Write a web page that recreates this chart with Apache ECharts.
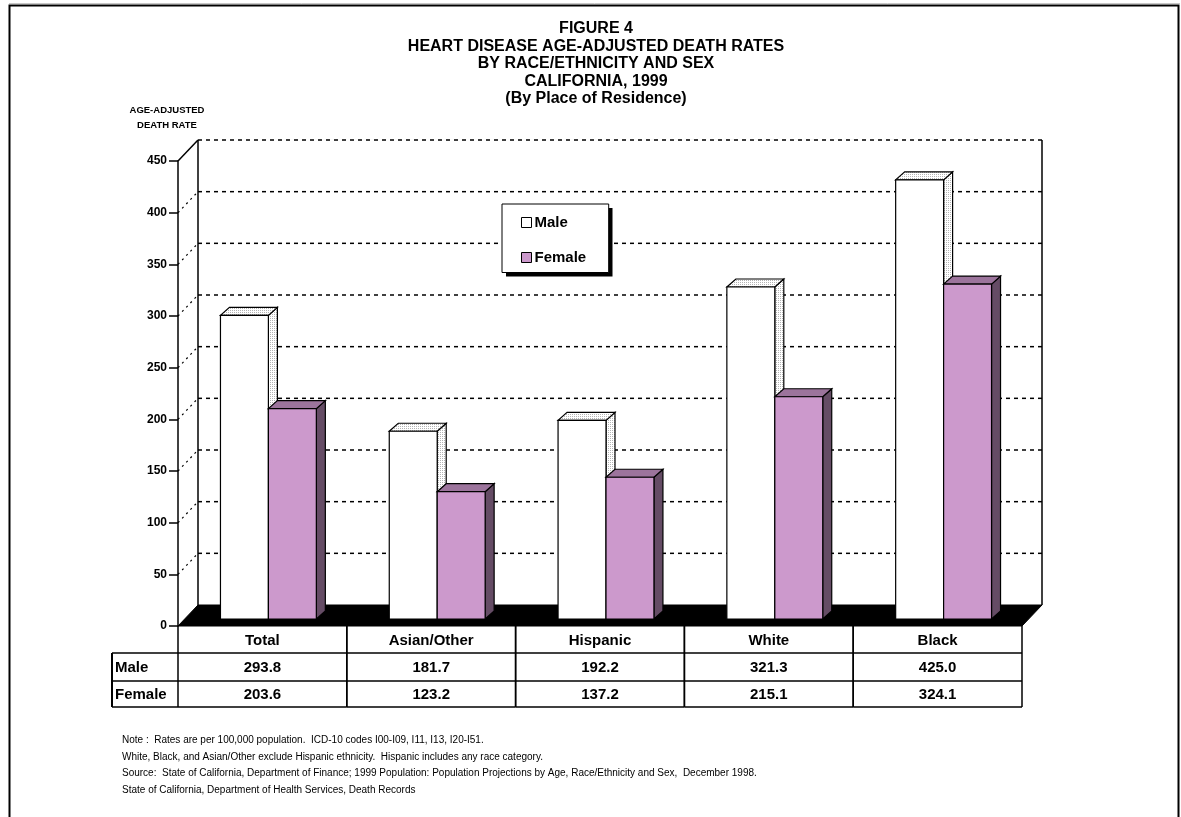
<!DOCTYPE html>
<html>
<head>
<meta charset="utf-8">
<script src="https://cdn.jsdelivr.net/npm/echarts@6/dist/echarts.min.js"></script>
<style>
  html, body { margin: 0; padding: 0; background: #fff; }
  #chart { width: 1181px; height: 817px; }
</style>
</head>
<body>
<div id="chart"></div>
<script>
// ---- data ----
const categories = ['Total', 'Asian/Other', 'Hispanic', 'White', 'Black'];
const maleRates = [293.8, 181.7, 192.2, 321.3, 425.0];
const femaleRates = [203.6, 123.2, 137.2, 215.1, 324.1];
const seriesNames = ['Male', 'Female'];
const yMin = 0, yMax = 450, yStep = 50;

const titleLines = [
  'FIGURE 4',
  'HEART DISEASE AGE-ADJUSTED DEATH RATES',
  'BY RACE/ETHNICITY AND SEX',
  'CALIFORNIA, 1999',
  '(By Place of Residence)'
];
const yAxisTitle = ['AGE-ADJUSTED', 'DEATH RATE'];
const notes = [
  'Note :  Rates are per 100,000 population.  ICD-10 codes I00-I09, I11, I13, I20-I51.',
  'White, Black, and Asian/Other exclude Hispanic ethnicity.  Hispanic includes any race category.',
  'Source:  State of California, Department of Finance; 1999 Population: Population Projections by Age, Race/Ethnicity and Sex,  December 1998.',
  'State of California, Department of Health Services, Death Records'
];

// ---- styling ----
const FONT = '"Liberation Sans", Arial, Helvetica, sans-serif';
const WALL = { dx: 20, dy: -21 };      // depth of the back wall
const BAR_SHIFT = { dx: 6, dy: -7 };   // bars sit slightly behind the front plane
const BAR_DEPTH = { dx: 9, dy: -8 };   // depth of each bar
const BAR_FRACTION = 0.284;            // bar width relative to category band

const femaleFront = '#cc99cc';
const femaleTop = '#9c749c';
const femaleSide = '#654c65';

// light stipple used for the white bars' top and side faces
function makeStipple() {
  const c = document.createElement('canvas');
  c.width = 2; c.height = 2;
  const g = c.getContext('2d');
  g.fillStyle = '#ffffff';
  g.fillRect(0, 0, 2, 2);
  g.fillStyle = '#b4b4b4';
  g.fillRect(0, 0, 1, 1);
  return { image: c, repeat: 'repeat' };
}
const stipple = makeStipple();

const chart = echarts.init(document.getElementById('chart'), null, { renderer: 'canvas' });

// back wall, side wall gridlines and black floor
function renderWall(params, api) {
  const cs = params.coordSys;
  const left = cs.x, right = cs.x + cs.width;
  const floorY = api.coord([0, yMin])[1];
  const topY = api.coord([0, yMax])[1];
  const children = [];

  for (let v = yMin + yStep; v <= yMax; v += yStep) {
    const y = api.coord([0, v])[1];
    children.push({
      type: 'line',
      shape: { x1: left + WALL.dx, y1: y + WALL.dy, x2: right + WALL.dx, y2: y + WALL.dy },
      style: { stroke: '#000', lineWidth: 1.5, lineDash: [4, 4] }
    });
    children.push({
      type: 'line',
      shape: { x1: left, y1: y, x2: left + WALL.dx, y2: y + WALL.dy },
      style: v === yMax
        ? { stroke: '#000', lineWidth: 1.5 }
        : { stroke: '#000', lineWidth: 1.2, lineDash: [2, 4] }
    });
  }
  // back wall verticals
  [left + WALL.dx, right + WALL.dx].forEach(function (x) {
    children.push({
      type: 'line',
      shape: { x1: x, y1: topY + WALL.dy, x2: x, y2: floorY + WALL.dy },
      style: { stroke: '#000', lineWidth: 1.5 }
    });
  });
  // floor
  children.push({
    type: 'polygon',
    shape: { points: [[left, floorY], [right, floorY], [right + WALL.dx, floorY + WALL.dy], [left + WALL.dx, floorY + WALL.dy]] },
    style: { fill: '#000', stroke: '#000', lineWidth: 1 }
  });
  return { type: 'group', children: children };
}

function barRenderer(isMale) {
  return function (params, api) {
    const cat = api.value(0);
    const v = api.value(1);
    const base = api.coord([cat, yMin]);
    const top = api.coord([cat, v]);
    const band = api.size([1, 0])[0];
    const w = band * BAR_FRACTION;
    const x0 = base[0] + BAR_SHIFT.dx + (isMale ? -w : 0);
    const x1 = x0 + w;
    const yb = base[1] + BAR_SHIFT.dy;
    const yt = top[1] + BAR_SHIFT.dy;
    const dx = BAR_DEPTH.dx, dy = BAR_DEPTH.dy;
    const stroke = { stroke: '#000', lineWidth: 1.2, lineJoin: 'miter' };
    return {
      type: 'group',
      children: [
        {
          type: 'polygon',
          shape: { points: [[x1, yt], [x1 + dx, yt + dy], [x1 + dx, yb + dy], [x1, yb]] },
          style: Object.assign({ fill: isMale ? stipple : femaleSide }, stroke)
        },
        {
          type: 'polygon',
          shape: { points: [[x0, yt], [x1, yt], [x1 + dx, yt + dy], [x0 + dx, yt + dy]] },
          style: Object.assign({ fill: isMale ? stipple : femaleTop }, stroke)
        },
        {
          type: 'rect',
          shape: { x: x0, y: yt, width: w, height: yb - yt },
          style: Object.assign({ fill: isMale ? '#ffffff' : femaleFront }, stroke)
        }
      ]
    };
  };
}

// data table under the plot, one column per category
const ROWS = [0, 27, 55, 81];        // row boundaries below the floor line
const LABEL_COL_LEFT = 112;
function renderTable(params, api) {
  const cat = api.value(0);
  const c = api.coord([cat, yMin]);
  const band = api.size([1, 0])[0];
  const xl = c[0] - band / 2, xr = c[0] + band / 2;
  const y0 = c[1];
  const children = [];
  const line = { stroke: '#000', lineWidth: 1.5 };
  const txt = function (text, x, y, align) {
    return {
      type: 'text',
      style: { text: text, x: x, y: y, align: align || 'center', verticalAlign: 'middle',
               font: 'bold 15px ' + FONT, fill: '#000' }
    };
  };
  children.push({ type: 'line', shape: { x1: xl, y1: y0 + ROWS[0], x2: xl, y2: y0 + ROWS[3] }, style: line });
  children.push({ type: 'line', shape: { x1: xr, y1: y0 + ROWS[0], x2: xr, y2: y0 + ROWS[3] }, style: line });
  for (let r = 1; r < ROWS.length; r++) {
    children.push({ type: 'line', shape: { x1: xl, y1: y0 + ROWS[r], x2: xr, y2: y0 + ROWS[r] }, style: line });
  }
  children.push(txt(categories[cat], c[0], y0 + (ROWS[0] + ROWS[1]) / 2 + 1));
  children.push(txt(api.value(1).toFixed(1), c[0], y0 + (ROWS[1] + ROWS[2]) / 2 + 1));
  children.push(txt(api.value(2).toFixed(1), c[0], y0 + (ROWS[2] + ROWS[3]) / 2 + 1));

  // row-label column, drawn once beside the first category
  if (cat === 0) {
    children.push({ type: 'line', shape: { x1: LABEL_COL_LEFT, y1: y0 + ROWS[1], x2: LABEL_COL_LEFT, y2: y0 + ROWS[3] }, style: { stroke: '#000', lineWidth: 2 } });
    for (let r = 1; r < ROWS.length; r++) {
      children.push({ type: 'line', shape: { x1: LABEL_COL_LEFT, y1: y0 + ROWS[r], x2: xl, y2: y0 + ROWS[r] }, style: line });
    }
    children.push(txt(seriesNames[0], LABEL_COL_LEFT + 3, y0 + (ROWS[1] + ROWS[2]) / 2 + 1, 'left'));
    children.push(txt(seriesNames[1], LABEL_COL_LEFT + 3, y0 + (ROWS[2] + ROWS[3]) / 2 + 1, 'left'));
  }
  return { type: 'group', children: children };
}

const catIndex = categories.map(function (_, i) { return i; });

const LEGEND_BOX = { x: 502, y: 204, w: 106.5, h: 68.5 };

const option = {
  backgroundColor: '#ffffff',
  animation: false,
  title: [
    {
      text: titleLines.join('\n'),
      left: 591, top: 15, textAlign: 'center',
      textStyle: { fontFamily: FONT, fontSize: 16, fontWeight: 'bold', color: '#000', lineHeight: 17.5 }
    },
    {
      text: yAxisTitle.join('\n'),
      left: 162, top: 98, textAlign: 'center',
      textStyle: { fontFamily: FONT, fontSize: 9.5, fontWeight: 'bold', color: '#000', lineHeight: 15 }
    },
    {
      text: notes.join('\n'),
      left: 117, top: 727,
      textStyle: { fontFamily: FONT, fontSize: 10, fontWeight: 'normal', color: '#000', lineHeight: 16.5 }
    }
  ],
  legend: {
    orient: 'vertical',
    left: LEGEND_BOX.x, top: LEGEND_BOX.y,
    padding: [11, 22.5, 7.5, 19],
    itemGap: 20,
    itemWidth: 10, itemHeight: 10,
    z: 10,
    backgroundColor: '#fff',
    borderColor: '#000', borderWidth: 1,
    textStyle: { fontFamily: FONT, fontSize: 15, fontWeight: 'bold', color: '#000', padding: [0, 0, 0, -2] },
    data: [
      { name: seriesNames[0], icon: 'rect', itemStyle: { color: '#fff', borderColor: '#000', borderWidth: 1 } },
      { name: seriesNames[1], icon: 'rect', itemStyle: { color: femaleFront, borderColor: '#000', borderWidth: 1 } }
    ]
  },
  grid: { left: 178, top: 161, width: 844, height: 465, containLabel: false },
  xAxis: {
    type: 'category',
    data: categories,
    boundaryGap: true,
    axisLine: { show: false },
    axisTick: { show: false },
    axisLabel: { show: false },
    splitLine: { show: false }
  },
  yAxis: {
    type: 'value',
    min: yMin, max: yMax, interval: yStep,
    axisLine: { show: true, lineStyle: { color: '#000', width: 1.5 } },
    axisTick: { show: true, inside: false, length: 9, lineStyle: { color: '#000', width: 1.5 } },
    axisLabel: { color: '#000', fontFamily: FONT, fontSize: 12, fontWeight: 'bold', margin: 11 },
    splitLine: { show: false }
  },
  series: [
    {
      type: 'custom', name: 'wall', z: 1, silent: true,
      renderItem: renderWall,
      data: [[0, 0]]
    },
    {
      type: 'custom', name: seriesNames[0], z: 3,
      itemStyle: { color: '#ffffff', borderColor: '#000' },
      renderItem: barRenderer(true),
      encode: { x: 0, y: 1 },
      data: catIndex.map(function (i) { return [i, maleRates[i]]; })
    },
    {
      type: 'custom', name: seriesNames[1], z: 4,
      itemStyle: { color: femaleFront, borderColor: '#000' },
      renderItem: barRenderer(false),
      encode: { x: 0, y: 1 },
      data: catIndex.map(function (i) { return [i, femaleRates[i]]; })
    },
    {
      type: 'custom', name: 'table', z: 5, silent: true,
      renderItem: renderTable,
      encode: { x: 0, y: -1 },
      data: catIndex.map(function (i) { return [i, maleRates[i], femaleRates[i]]; })
    }
  ],
  graphic: [
    {
      type: 'rect', silent: true, z: 0,
      shape: { x: 9.5, y: 5.5, width: 1169, height: 900 },
      style: { fill: 'none', stroke: '#000', lineWidth: 2 }
    },
    {
      type: 'line', silent: true, z: 0,
      shape: { x1: 9, y1: 3.5, x2: 1180, y2: 3.5 },
      style: { stroke: '#c8c8c8', lineWidth: 1 }
    },
    {
      // drop shadow behind the legend box
      type: 'rect', silent: true, z: 8,
      shape: { x: LEGEND_BOX.x + 4, y: LEGEND_BOX.y + 4, width: LEGEND_BOX.w, height: LEGEND_BOX.h },
      style: { fill: '#000' }
    }
  ]
};

chart.setOption(option);
</script>
</body>
</html>
